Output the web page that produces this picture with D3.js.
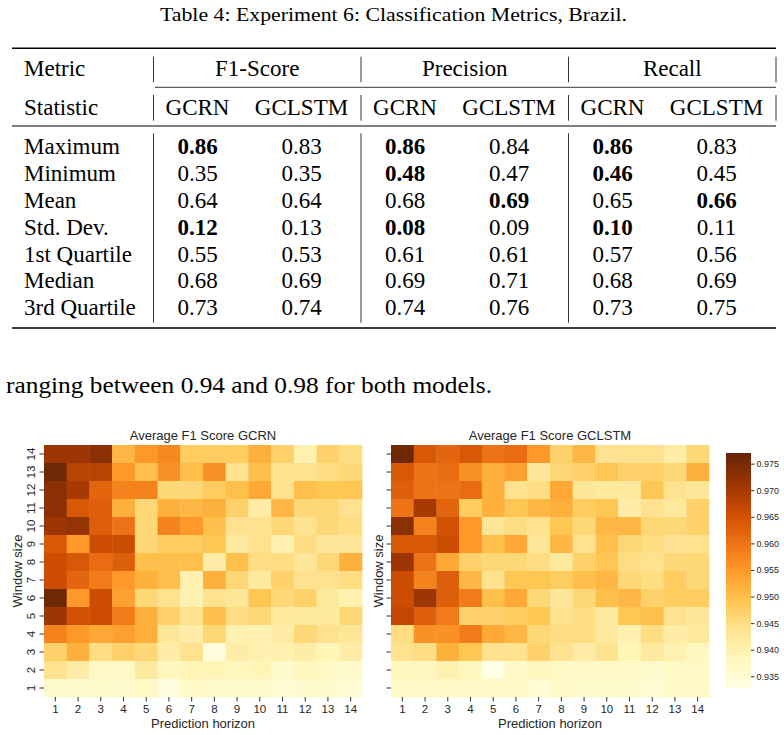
<!DOCTYPE html>
<html lang="en">
  <head>
    <meta charset="UTF-8" />
    <title>Experiment 6: Brazil</title>
    <style>
      body { margin: 0; background: #fff; }
      .serif { font-family: "Liberation Serif", "Times New Roman", serif; fill: #000; }
      .sans { font-family: "Liberation Sans", Arial, sans-serif; fill: #262626; }
      .tick line { stroke: #333; }
      .domain { display: none; }
    </style>
  </head>
  <body>
    <svg id="svg" width="784" height="735"></svg>

    <script src="https://cdn.jsdelivr.net/npm/d3@7"></script>
    <script>
      // ---- table data ----
      const caption = "Table 4: Experiment 6: Classification Metrics, Brazil.";
      const paragraph = "ranging between 0.94 and 0.98 for both models.";
      const metricGroups = ["F1-Score", "Precision", "Recall"];
      const models = ["GCRN", "GCLSTM"];
      const statistics = ["Maximum", "Minimum", "Mean", "Std. Dev.", "1st Quartile", "Median", "3rd Quartile"];
      const f1Gcrn = ["0.86", "0.35", "0.64", "0.12", "0.55", "0.68", "0.73"];
      const f1Gclstm = ["0.83", "0.35", "0.64", "0.13", "0.53", "0.69", "0.74"];
      const precGcrn = ["0.86", "0.48", "0.68", "0.08", "0.61", "0.69", "0.74"];
      const precGclstm = ["0.84", "0.47", "0.69", "0.09", "0.61", "0.71", "0.76"];
      const recGcrn = ["0.86", "0.46", "0.65", "0.10", "0.57", "0.68", "0.73"];
      const recGclstm = ["0.83", "0.45", "0.66", "0.11", "0.56", "0.69", "0.75"];
      // [column index, row index] of bold cells
      const boldCells = [[0, 0], [0, 3], [2, 0], [2, 1], [2, 3], [3, 2], [4, 0], [4, 1], [4, 3], [5, 2]];

      // ---- heatmap data ----
      const horizons = [1, 2, 3, 4, 5, 6, 7, 8, 9, 10, 11, 12, 13, 14];
      const windowSizes = [14, 13, 12, 11, 10, 9, 8, 7, 6, 5, 4, 3, 2, 1]; // top to bottom
      const cbarTicks = [0.935, 0.94, 0.945, 0.95, 0.955, 0.96, 0.965, 0.97, 0.975];
      const cbarDomain = [0.9328, 0.977];
      // rows follow windowSizes (14 at top), columns follow horizons
      const gcrnF1 = [
        [0.971, 0.971, 0.973, 0.951, 0.955, 0.957, 0.948, 0.948, 0.948, 0.952, 0.947, 0.940, 0.947, 0.945],
        [0.976, 0.968, 0.968, 0.955, 0.950, 0.956, 0.950, 0.956, 0.944, 0.950, 0.944, 0.944, 0.945, 0.946],
        [0.973, 0.970, 0.962, 0.958, 0.958, 0.946, 0.946, 0.948, 0.950, 0.953, 0.944, 0.950, 0.949, 0.949],
        [0.973, 0.964, 0.963, 0.952, 0.946, 0.952, 0.951, 0.952, 0.947, 0.941, 0.951, 0.946, 0.946, 0.944],
        [0.971, 0.972, 0.963, 0.960, 0.946, 0.958, 0.955, 0.950, 0.944, 0.944, 0.946, 0.944, 0.946, 0.945],
        [0.964, 0.955, 0.966, 0.966, 0.946, 0.948, 0.948, 0.949, 0.942, 0.944, 0.940, 0.945, 0.943, 0.943],
        [0.966, 0.964, 0.961, 0.963, 0.950, 0.950, 0.950, 0.941, 0.950, 0.945, 0.945, 0.943, 0.946, 0.952],
        [0.966, 0.962, 0.959, 0.955, 0.952, 0.950, 0.940, 0.952, 0.946, 0.942, 0.947, 0.944, 0.944, 0.945],
        [0.976, 0.955, 0.966, 0.954, 0.946, 0.944, 0.940, 0.944, 0.943, 0.949, 0.946, 0.947, 0.942, 0.940],
        [0.971, 0.965, 0.966, 0.959, 0.952, 0.947, 0.944, 0.950, 0.945, 0.946, 0.942, 0.942, 0.942, 0.946],
        [0.958, 0.955, 0.953, 0.954, 0.952, 0.943, 0.941, 0.946, 0.940, 0.940, 0.941, 0.946, 0.944, 0.943],
        [0.947, 0.952, 0.945, 0.947, 0.946, 0.941, 0.944, 0.934, 0.941, 0.940, 0.940, 0.941, 0.939, 0.941],
        [0.944, 0.941, 0.937, 0.937, 0.942, 0.938, 0.939, 0.939, 0.938, 0.939, 0.936, 0.938, 0.937, 0.936],
        [0.936, 0.936, 0.936, 0.936, 0.937, 0.934, 0.937, 0.936, 0.936, 0.936, 0.935, 0.936, 0.936, 0.935]
      ];
      const gclstmF1 = [
        [0.976, 0.964, 0.962, 0.964, 0.960, 0.961, 0.955, 0.947, 0.951, 0.944, 0.944, 0.944, 0.941, 0.946],
        [0.964, 0.960, 0.961, 0.956, 0.952, 0.954, 0.943, 0.946, 0.947, 0.949, 0.947, 0.947, 0.946, 0.952],
        [0.963, 0.960, 0.960, 0.961, 0.952, 0.944, 0.945, 0.953, 0.943, 0.942, 0.942, 0.949, 0.944, 0.943],
        [0.960, 0.970, 0.962, 0.948, 0.952, 0.949, 0.951, 0.952, 0.948, 0.949, 0.941, 0.944, 0.942, 0.947],
        [0.973, 0.958, 0.965, 0.955, 0.943, 0.945, 0.944, 0.949, 0.946, 0.951, 0.951, 0.946, 0.946, 0.947],
        [0.964, 0.964, 0.966, 0.955, 0.950, 0.953, 0.943, 0.951, 0.944, 0.950, 0.946, 0.945, 0.944, 0.944],
        [0.971, 0.960, 0.953, 0.947, 0.946, 0.946, 0.945, 0.942, 0.947, 0.949, 0.945, 0.944, 0.946, 0.946],
        [0.966, 0.958, 0.963, 0.951, 0.944, 0.949, 0.949, 0.948, 0.950, 0.951, 0.946, 0.945, 0.948, 0.946],
        [0.966, 0.971, 0.963, 0.959, 0.950, 0.953, 0.946, 0.943, 0.946, 0.950, 0.951, 0.947, 0.948, 0.948],
        [0.967, 0.963, 0.959, 0.947, 0.947, 0.948, 0.949, 0.944, 0.945, 0.942, 0.949, 0.950, 0.944, 0.943],
        [0.945, 0.956, 0.956, 0.959, 0.953, 0.951, 0.946, 0.945, 0.945, 0.942, 0.940, 0.945, 0.941, 0.942],
        [0.944, 0.945, 0.952, 0.949, 0.944, 0.944, 0.947, 0.944, 0.941, 0.944, 0.939, 0.942, 0.940, 0.938],
        [0.938, 0.938, 0.940, 0.938, 0.933, 0.937, 0.938, 0.937, 0.937, 0.937, 0.937, 0.936, 0.937, 0.937],
        [0.937, 0.937, 0.937, 0.937, 0.937, 0.937, 0.935, 0.937, 0.936, 0.936, 0.936, 0.935, 0.937, 0.937]
      ];

      const svg = d3.select("#svg");
      svg.append("rect").attr("width", 784).attr("height", 735).attr("fill", "#fff");

      // ---------- table ----------
      svg.append("text").attr("class", "serif")
        .attr("x", 160).attr("y", 21)
        .attr("font-size", 19)
        .attr("textLength", 467).attr("lengthAdjust", "spacingAndGlyphs")
        .text(caption);

      const tableFont = 23;
      const groupScale = d3.scaleBand().domain(metricGroups).range([153.5, 776]);
      const modelScale = d3.scalePoint().domain(models).range([44, 148]);
      const rowScale = d3.scalePoint().domain(statistics).range([146.7, 307.7]);
      const columns = [f1Gcrn, f1Gclstm, precGcrn, precGclstm, recGcrn, recGclstm];
      const colX = (i) => groupScale(metricGroups[Math.floor(i / 2)]) + modelScale(models[i % 2]);

      const rules = [
        { y: 48.3, x0: 12, w: 1.6 },
        { y: 87.3, x0: 155, w: 0.8 },
        { y: 126, x0: 12, w: 1 },
        { y: 328, x0: 12, w: 1.6 }
      ];
      svg.selectAll(".rule").data(rules).enter().append("line")
        .attr("x1", (d) => d.x0).attr("x2", 776)
        .attr("y1", (d) => d.y).attr("y2", (d) => d.y)
        .attr("stroke", "#000").attr("stroke-width", (d) => d.w);

      const vSegments = [[56.7, 82.3], [95, 120.7], [133.3, 322.7]];
      const vxs = [153.5, 361, 568.5, 776];
      vSegments.forEach((seg, si) => {
        vxs.forEach((vx, vi) => {
          if (si === 2 && vi === 3) return;
          svg.append("line").attr("x1", vx).attr("x2", vx)
            .attr("y1", seg[0]).attr("y2", seg[1])
            .attr("stroke", "#000").attr("stroke-width", 0.8);
        });
      });

      const t = svg.append("g").attr("class", "serif").attr("font-size", tableFont);
      t.append("text").attr("x", 24).attr("y", 68).attr("dy", "0.33em").text("Metric");
      t.append("text").attr("x", 24).attr("y", 107).attr("dy", "0.33em").text("Statistic");
      t.selectAll(".grp").data(metricGroups).enter().append("text")
        .attr("x", (d) => groupScale(d) + groupScale.bandwidth() / 2)
        .attr("y", 68).attr("dy", "0.33em").attr("text-anchor", "middle").text((d) => d);
      columns.forEach((col, i) => {
        t.append("text").attr("x", colX(i)).attr("y", 107).attr("dy", "0.33em")
          .attr("text-anchor", "middle").text(models[i % 2]);
      });
      t.selectAll(".stat").data(statistics).enter().append("text")
        .attr("x", 24).attr("y", (d) => rowScale(d)).attr("dy", "0.33em").text((d) => d);
      columns.forEach((col, i) => {
        t.selectAll(null).data(col).enter().append("text")
          .attr("x", colX(i))
          .attr("y", (d, r) => rowScale(statistics[r]))
          .attr("dy", "0.33em").attr("text-anchor", "middle")
          .attr("font-weight", (d, r) => boldCells.some((b) => b[0] === i && b[1] === r) ? "bold" : "normal")
          .text((d) => d);
      });

      svg.append("text").attr("class", "serif")
        .attr("x", 6).attr("y", 393)
        .attr("font-size", 23)
        .attr("textLength", 486).attr("lengthAdjust", "spacingAndGlyphs")
        .text(paragraph);

      // ---------- heatmaps ----------
      const ylorbr = ["#ffffe5", "#fff7bc", "#fee391", "#fec44f", "#fe9929", "#ec7014", "#cc4c02", "#993404", "#662506"];
      const color = d3.scaleLinear()
        .domain(ylorbr.map((c, i) => cbarDomain[0] + (i / 8) * (cbarDomain[1] - cbarDomain[0])))
        .range(ylorbr)
        .clamp(true);

      function drawHeatmap(data, x0, x1, title, showYLabels, ylabelX) {
        const x = d3.scaleBand().domain(horizons).range([x0, x1]);
        const y = d3.scaleBand().domain(windowSizes).range([445, 697]);
        const g = svg.append("g");

        data.forEach((row, ri) => {
          g.selectAll(null).data(row).enter().append("rect")
            .attr("x", (d, ci) => x(horizons[ci]))
            .attr("y", y(windowSizes[ri]))
            .attr("width", x.bandwidth() + 0.4)
            .attr("height", y.bandwidth() + 0.4)
            .attr("fill", (d) => color(d));
        });

        const xAxis = g.append("g").attr("class", "sans")
          .attr("transform", `translate(0,697)`)
          .call(d3.axisBottom(x).tickSize(4.5).tickPadding(3));
        xAxis.selectAll("text").attr("font-size", 11.5).attr("fill", "#262626")
          .attr("font-family", "Liberation Sans, Arial, sans-serif");

        const yAxis = g.append("g").attr("class", "sans")
          .attr("transform", `translate(${x0},0)`)
          .call(d3.axisLeft(y).tickSize(4.5));
        if (showYLabels) {
          yAxis.selectAll("text")
            .attr("x", null).attr("dy", null)
            .attr("text-anchor", "middle")
            .attr("transform", "translate(-9,0) rotate(-90)")
            .attr("font-size", 11.5).attr("fill", "#262626")
            .attr("font-family", "Liberation Sans, Arial, sans-serif");
        } else {
          yAxis.selectAll("text").remove();
        }

        g.append("text").attr("class", "sans")
          .attr("x", (x0 + x1) / 2).attr("y", 439.5)
          .attr("text-anchor", "middle").attr("font-size", 13)
          .text(title);
        g.append("text").attr("class", "sans")
          .attr("x", (x0 + x1) / 2).attr("y", 728)
          .attr("text-anchor", "middle").attr("font-size", 13)
          .text("Prediction horizon");
        g.append("text").attr("class", "sans")
          .attr("transform", `translate(${ylabelX},571) rotate(-90)`)
          .attr("text-anchor", "middle").attr("font-size", 13)
          .text("Window size");
      }

      drawHeatmap(gcrnF1, 44, 362, "Average F1 Score GCRN", true, 21.5);
      drawHeatmap(gclstmF1, 391, 709, "Average F1 Score GCLSTM", false, 383);

      // ---------- colorbar ----------
      const cb = d3.scaleLinear().domain(cbarDomain).range([688, 453]);
      const grad = svg.append("defs").append("linearGradient")
        .attr("id", "cbar").attr("x1", 0).attr("y1", 1).attr("x2", 0).attr("y2", 0);
      grad.selectAll("stop").data(ylorbr).enter().append("stop")
        .attr("offset", (d, i) => i / 8).attr("stop-color", (d) => d);
      svg.append("rect").attr("x", 726).attr("y", cb(cbarDomain[1]))
        .attr("width", 25).attr("height", cb(cbarDomain[0]) - cb(cbarDomain[1]))
        .attr("fill", "url(#cbar)");
      const cbAxis = svg.append("g").attr("class", "sans")
        .attr("transform", "translate(751,0)")
        .call(d3.axisRight(cb).tickValues(cbarTicks).tickFormat(d3.format(".3f")).tickSize(3.5).tickPadding(2));
      cbAxis.selectAll("text").attr("font-size", 9).attr("fill", "#262626")
        .attr("font-family", "Liberation Sans, Arial, sans-serif");
    </script>
  </body>
</html>
